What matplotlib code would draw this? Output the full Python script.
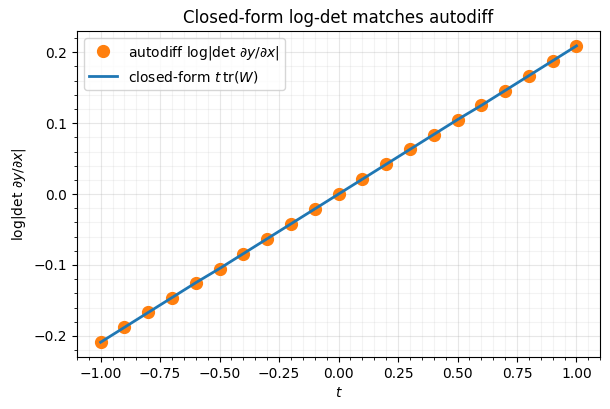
import matplotlib.pyplot as plt
import numpy as np

# t values and log|det| from autodiff
t = [-1.0, -0.9, -0.8, -0.7, -0.6, -0.5, -0.4, -0.3, -0.2, -0.1, 0.0,
     0.1, 0.2, 0.3, 0.4, 0.5, 0.6, 0.7, 0.8, 0.9, 1.0]
logdet_auto = [-0.209, -0.188, -0.167, -0.146, -0.125, -0.105, -0.084, -0.063, -0.042, -0.021, 0.0,
               0.021, 0.042, 0.063, 0.084, 0.105, 0.125, 0.146, 0.167, 0.188, 0.209]
logdet_closed = [-0.209, -0.188, -0.167, -0.146, -0.125, -0.105, -0.084, -0.063, -0.042, -0.021, 0.0,
                 0.021, 0.042, 0.063, 0.084, 0.105, 0.125, 0.146, 0.167, 0.188, 0.209]

fig, ax = plt.subplots(figsize=(6.1, 4.09), dpi=100)
fig.subplots_adjust(left=0.126, right=0.984, top=0.924, bottom=0.127)
ax.plot(t, logdet_auto, "o", color="tab:orange", markersize=8.5,
        label=r"autodiff log|det $\partial y/\partial x$|")
ax.plot(t, logdet_closed, "-", color="tab:blue", linewidth=2,
        label=r"closed-form $t\,\mathrm{tr}(W)$")
ax.set_xlabel(r"$t$")
ax.set_ylabel(r"log|det $\partial y/\partial x$|")
ax.set_title("Closed-form log-det matches autodiff")
ax.minorticks_on()
ax.grid(True, which="major", alpha=0.3)
ax.grid(True, which="minor", alpha=0.15)
ax.legend(loc="upper left")
fig.savefig("out.png", dpi=100)
